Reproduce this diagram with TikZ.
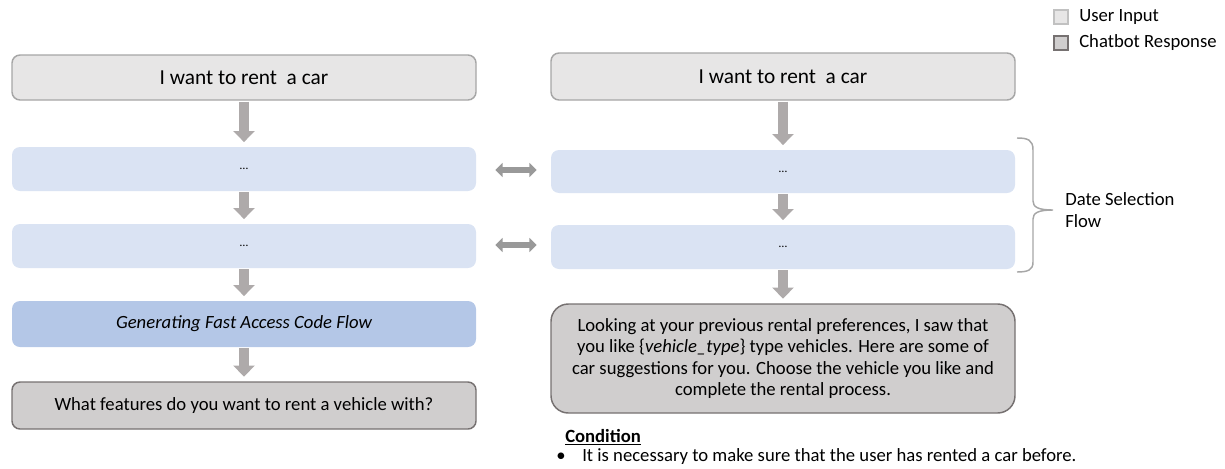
\documentclass[tikz,border=0pt]{standalone}
\usepackage{fontspec}
\setmainfont{Carlito}
\usepackage{xcolor}
\usepackage{tikz}
\usetikzlibrary{arrows.meta}

\definecolor{userfill}{HTML}{E7E6E6}
\definecolor{userline}{HTML}{A6A6A6}
\definecolor{botfill}{HTML}{D0CECE}
\definecolor{botline}{HTML}{767171}
\definecolor{stepfill}{HTML}{DAE3F3}
\definecolor{flowfill}{HTML}{B4C7E7}
\definecolor{arrowgray}{HTML}{AEAAAA}
\definecolor{linkgray}{HTML}{999999}

\tikzset{
  userbox/.style={draw=userline, fill=userfill, line width=1.1pt, rounded corners=6pt,
    minimum width=348pt, font=\fontsize{16}{19}\selectfont},
  botbox/.style={draw=botline, fill=botfill, line width=1.1pt, rounded corners=6pt,
    minimum width=348pt, font=\fontsize{14}{16.1}\selectfont, align=center},
  stepbox/.style={fill=stepfill, rounded corners=6pt, minimum width=348pt,
    font=\fontsize{9}{11}\selectfont},
  flowbox/.style={fill=flowfill, rounded corners=6pt, minimum width=348pt,
    font=\fontsize{14}{16}\selectfont\itshape},
  downarrow/.style={draw=arrowgray, line width=7.5pt,
    -{Triangle[length=8.25pt,width=15.75pt]}, shorten <=0.75pt, shorten >=3.5pt},
  linkarrow/.style={draw=linkgray, line width=4.5pt,
    {Triangle[length=5.5pt,width=10.5pt]}-{Triangle[length=5.5pt,width=10.5pt]}},
  legendbox/.style={minimum size=10.5pt, inner sep=0pt, line width=0.9pt},
  plain/.style={font=\fontsize{14}{16.5}\selectfont, inner sep=0.75pt}
}

\begin{document}
\begin{tikzpicture}[x=0.75pt,y=0.75pt,yscale=-1,xscale=1]
\useasboundingbox (0,0) rectangle (1225,468);

%Shape: left column
\node[userbox, minimum height=33.75pt] (l1) at (244,77.5) {I want to rent\ \ a car};
\node[stepbox, minimum height=33pt] (l2) at (244,169) {\ldots};
\node[stepbox, minimum height=33pt] (l3) at (244,246) {\ldots};
\node[flowbox, minimum height=34.5pt] (l4) at (244,324) {Generating Fast Access Code Flow};
\node[botbox, minimum height=35.25pt] (l5) at (244,405.5) {What features do you want to rent a vehicle with?};

%Shape: right column
\node[userbox, minimum height=35.25pt] (r1) at (783,76.5) {I want to rent\ \ a car};
\node[stepbox, minimum height=32.25pt] (r2) at (783,171.5) {\ldots};
\node[stepbox, minimum height=33pt] (r3) at (783,247) {\ldots};
\node[botbox, rounded corners=13pt, minimum height=81.75pt] (r4) at (783,358.5)
  {Looking at your previous rental preferences, I saw that\\
   you like \{\textit{vehicle\_type}\} type vehicles. Here are some of\\
   car suggestions for you. Choose the vehicle you like and\\
   complete the rental process.};

%Straight Lines: flow arrows
\foreach \a/\b in {l1/l2, l2/l3, l3/l4, l4/l5, r1/r2, r2/r3, r3/r4}
  \draw[downarrow] (\a.south) -- (\b.north);

%Straight Lines: links between the columns
\draw[linkarrow, shorten <=14.25pt, shorten >=10.5pt] (l2.east |- 0,170) -- (r2.west |- 0,170);
\draw[linkarrow, shorten <=14.25pt, shorten >=10.5pt] (l3.east |- 0,245) -- (r3.west |- 0,245);

%Shape: Brace
\draw[userline, line width=1.1pt] (1017,138) .. controls (1028,138) and (1033,140) .. (1033,150)
  -- (1033,201) .. controls (1033,207) and (1038,210) .. (1053,210)
  .. controls (1038,210) and (1033,213) .. (1033,219)
  -- (1033,262) .. controls (1033,270) and (1028,272) .. (1017,272);

% Text Node
\node[plain, anchor=west, align=left] (flowname) at (1064,210) {Date Selection\\Flow};

% Legend
\node[legendbox, draw=userline!70, fill=userfill] (leg1) at (1061,17) {};
\node[legendbox, draw=botline, fill=botfill] (leg2) at (1061,43) {};
\node[plain, anchor=west] (leg1text) at (1078,17) {User Input};
\node[plain, anchor=west] (leg2text) at (1078,43) {Chatbot Response};

% Text Node
\node[plain, anchor=west] (cond) at (564,437) {\underline{\textbf{Condition}}};
\node[plain, anchor=west] (condtext) at (555,457)
  {\makebox[19.5pt][l]{\textbullet}It is necessary to make sure that the user has rented a car before.};
\end{tikzpicture}
\end{document}
